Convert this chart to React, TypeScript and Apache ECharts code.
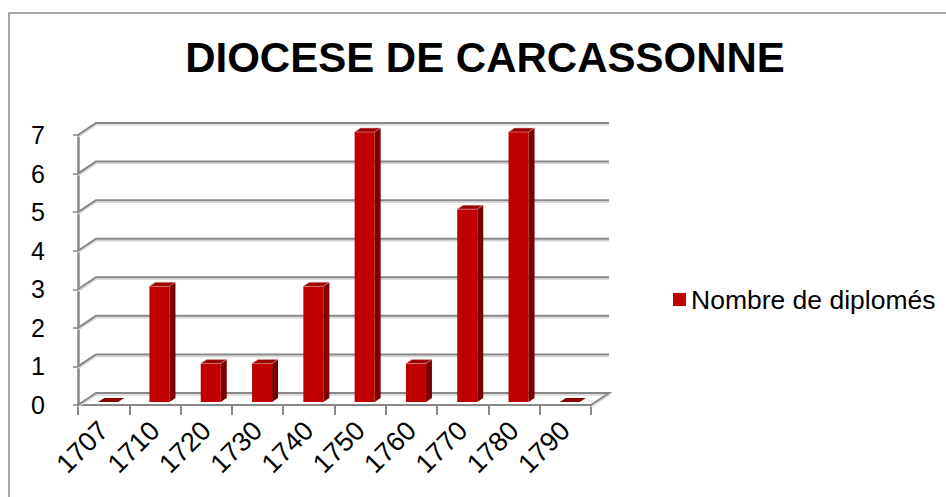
import React, { useEffect, useRef } from "react";
import * as echarts from "echarts";

const categories = ["1707", "1710", "1720", "1730", "1740", "1750", "1760", "1770", "1780", "1790"];
const counts = [0, 3, 1, 1, 3, 7, 1, 5, 7, 0];
const yTicks = [0, 1, 2, 3, 4, 5, 6, 7];
const seriesName = "Nombre de diplomés";
const titleText = "DIOCESE DE CARCASSONNE";

const FONT = "'Liberation Sans', Arial, sans-serif";
const GRID_COLOR = "#878787";
const DEPTH_X = 18;
const DEPTH_Y = -12;

export default function App() {
  const ref = useRef<HTMLDivElement>(null);

  useEffect(() => {
    if (!ref.current) return;
    const chart = echarts.init(ref.current, undefined, { renderer: "svg" });

    const option: any = {
      animation: false,
      backgroundColor: "#ffffff",
      textStyle: { fontFamily: FONT },
      grid: { left: 78, top: 135, width: 513, height: 270, containLabel: false },
      graphic: [
        {
          type: "rect",
          shape: { x: 9, y: 13, width: 1200, height: 800 },
          style: { fill: "none", stroke: "#8a8a8a", lineWidth: 1.5 },
          silent: true,
          z: 0,
        },
        {
          type: "text",
          x: 485,
          y: 57,
          style: {
            text: titleText,
            fontFamily: FONT,
            fontSize: 42,
            fontWeight: "bold",
            fill: "#000000",
            textAlign: "center",
            textVerticalAlign: "middle",
          },
        },
      ],
      legend: {
        left: 668,
        top: 281,
        icon: "rect",
        itemWidth: 13,
        itemHeight: 13,
        data: [{ name: seriesName, itemStyle: { color: "#C00000" } }],
        textStyle: { fontSize: 26.5, color: "#000000", fontFamily: FONT },
        selectedMode: false,
      },
      xAxis: {
        type: "category",
        data: categories,
        boundaryGap: true,
        axisLine: { show: true, lineStyle: { color: GRID_COLOR, width: 2 } },
        axisTick: { show: true, alignWithLabel: false, length: 10, lineStyle: { color: GRID_COLOR, width: 2 } },
        axisLabel: {
          rotate: 45,
          interval: 0,
          margin: 21,
          fontSize: 27,
          color: "#000000",
          fontFamily: FONT,
        },
        splitLine: { show: false },
      },
      yAxis: {
        type: "value",
        min: 0,
        max: 7,
        interval: 1,
        axisLine: { show: true, lineStyle: { color: GRID_COLOR, width: 2.5 } },
        axisTick: { show: true, length: 5, lineStyle: { color: GRID_COLOR, width: 1.5 } },
        axisLabel: { margin: 33, fontSize: 25, color: "#000000", fontFamily: FONT },
        splitLine: { show: false },
      },
      series: [
        {
          type: "custom",
          silent: true,
          z: 1,
          data: yTicks.map((t) => [0, t]),
          encode: { x: 0, y: 1 },
          renderItem: (params: any, api: any) => {
            const v = api.value(1);
            const y = api.coord([0, v])[1];
            const cs = params.coordSys;
            const x0 = cs.x;
            const x1 = cs.x + cs.width;
            const pts: number[][] = [
              [x0, y],
              [x0 + DEPTH_X, y + DEPTH_Y],
              [x1 + DEPTH_X, y + DEPTH_Y],
            ];
            if (v === 0) pts.push([x1, y]);
            const shade = pts.map((p) => [p[0], p[1] + 2]);
            return {
              type: "group",
              children: [
                {
                  type: "polyline",
                  shape: { points: shade },
                  style: { stroke: "#d6d6d6", lineWidth: 1.5, fill: "none" },
                },
                {
                  type: "polyline",
                  shape: { points: pts },
                  style: { stroke: GRID_COLOR, lineWidth: 2, fill: "none" },
                },
              ],
            };
          },
        },
        {
          type: "custom",
          name: seriesName,
          z: 3,
          itemStyle: { color: "#C00000" },
          data: counts.map((v, i) => [i, v]),
          encode: { x: 0, y: 1 },
          renderItem: (params: any, api: any) => {
            const i = api.value(0);
            const v = api.value(1);
            const base = api.coord([i, 0]);
            const top = api.coord([i, v]);
            const band = api.size([1, 0])[0];
            const w = band * 0.39;
            const ox = 4.5;
            const oy = -3;
            const dx = 6;
            const dy = -4;
            const xl = base[0] - w / 2 + ox;
            const xr = xl + w;
            const yb = base[1] + oy;
            const yt = top[1] + oy;
            const children: any[] = [];
            if (v > 0) {
              children.push({
                type: "polygon",
                shape: { points: [[xr, yt], [xr + dx, yt + dy], [xr + dx, yb + dy], [xr, yb]] },
                style: { fill: "#7A0000" },
              });
              children.push({
                type: "rect",
                shape: { x: xl, y: yt, width: w, height: yb - yt },
                style: { fill: "#C00000" },
              });
              children.push({
                type: "polygon",
                shape: { points: [[xl, yt], [xl + dx, yt + dy], [xr + dx, yt + dy], [xr, yt]] },
                style: { fill: "#9A0000", stroke: "#d9a0a0", lineWidth: 0.6 },
              });
            } else {
              children.push({
                type: "polygon",
                shape: { points: [[xl, yb], [xl + dx, yb + dy], [xr + dx, yb + dy], [xr, yb]] },
                style: { fill: "#8B0000" },
              });
            }
            return { type: "group", children };
          },
        },
      ],
    };

    chart.setOption(option);
    return () => chart.dispose();
  }, []);

  return (
    <div
      ref={ref}
      style={{ position: "absolute", left: 0, top: 0, width: 946, height: 497 }}
    />
  );
}
